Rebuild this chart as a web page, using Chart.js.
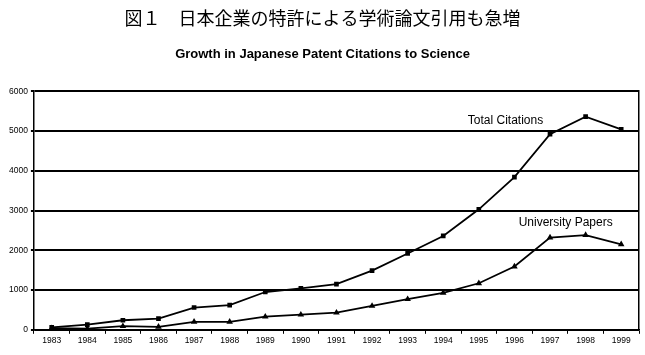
<!DOCTYPE html>
<html>
<head>
<meta charset="utf-8">
<script src="https://cdn.jsdelivr.net/npm/chart.js@4"></script>
<style>
html,body{margin:0;padding:0;background:#fff;}
#wrap{width:645px;height:355px;}
</style>
</head>
<body>
<div id="wrap"><canvas id="c" width="645" height="355"></canvas></div>
<script>
const years = ['1983','1984','1985','1986','1987','1988','1989','1990','1991','1992','1993','1994','1995','1996','1997','1998','1999'];
const totalCitations = [60,130,240,280,560,620,950,1040,1150,1490,1920,2360,3030,3840,4920,5360,5040];
const universityPapers = [40,30,90,75,200,200,330,380,430,600,770,930,1170,1590,2320,2380,2150];
const yTicks = [0,1000,2000,3000,4000,5000,6000];
const titleJa = '図１　日本企業の特許による学術論文引用も急増';
const titleEn = 'Growth in Japanese Patent Citations to Science';
const seriesLabels = [
  {text:'Total Citations', x:12.75, y:5250},
  {text:'University Papers', x:14.44, y:2690}
];

const labelPlugin = {
  id:'seriesLabels',
  afterDatasetsDraw(chart){
    const {ctx, scales} = chart;
    ctx.save();
    ctx.font = '12px "Liberation Sans", Arial, sans-serif';
    ctx.fillStyle = '#000';
    ctx.textAlign = 'center';
    ctx.textBaseline = 'middle';
    seriesLabels.forEach(l=>{
      ctx.fillText(l.text, scales.x.getPixelForValue(l.x), scales.y.getPixelForValue(l.y));
    });
    ctx.restore();
  }
};

new Chart(document.getElementById('c'), {
  type:'line',
  data:{
    labels: years,
    datasets:[
      {label:'Total Citations', data: totalCitations, borderColor:'#000', backgroundColor:'#000',
       borderWidth:1.8, tension:0, pointStyle:'rect', pointRadius:3.3, pointBorderWidth:0},
      {label:'University Papers', data: universityPapers, borderColor:'#000', backgroundColor:'#000',
       borderWidth:1.8, tension:0, pointStyle:'triangle', pointRadius:3.8, pointBorderWidth:0}
    ]
  },
  options:{
    responsive:false,
    animation:false,
    layout:{padding:{left:6,right:6,top:0,bottom:7}},
    plugins:{
      legend:{display:false},
      tooltip:{enabled:false},
      title:{display:true, text:titleJa, color:'#000',
        font:{family:'"Noto Sans CJK JP", sans-serif', size:18, weight:'normal'},
        padding:{top:7,bottom:18}},
      subtitle:{display:true, text:titleEn, color:'#000',
        font:{family:'"Liberation Sans", Arial, sans-serif', size:13, weight:'bold'},
        padding:{top:0,bottom:29}}
    },
    scales:{
      x:{
        offset:true,
        grid:{drawOnChartArea:false, drawTicks:true, tickLength:4, offset:true, color:'#000', lineWidth:1},
        border:{display:true, color:'#000', width:1.5},
        ticks:{color:'#000', font:{family:'"Liberation Sans", Arial, sans-serif', size:8.5}, padding:2, maxRotation:0, autoSkip:false}
      },
      y:{
        min:0, max:6000,
        afterBuildTicks(axis){ axis.ticks = yTicks.map(v=>({value:v})); },
        grid:{color:'#000', lineWidth:2, drawTicks:true, tickLength:3},
        border:{display:true, color:'#000', width:1.5},
        ticks:{color:'#000', font:{family:'"Liberation Sans", Arial, sans-serif', size:8.5}, padding:3,
          callback:(v)=>String(v)}
      },
      yr:{
        position:'right', min:0, max:6000,
        ticks:{display:false},
        grid:{drawOnChartArea:false, drawTicks:false},
        border:{display:true, color:'#000', width:1.5}
      }
    }
  },
  plugins:[labelPlugin]
});
</script>
</body>
</html>
